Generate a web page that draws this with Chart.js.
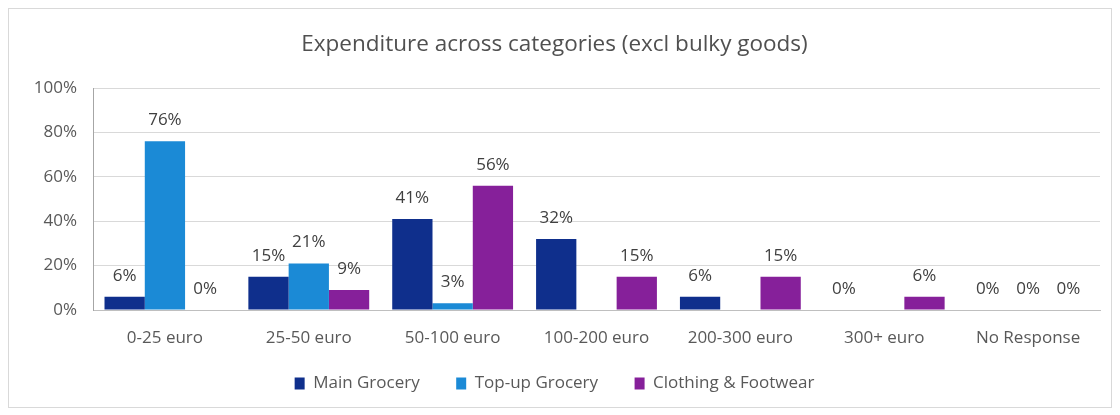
<!DOCTYPE html>
<html lang="en">
<head>
    <meta charset="UTF-8">
    <title>Expenditure across categories (excl bulky goods)</title>
    <script src="https://cdn.jsdelivr.net/npm/chart.js"></script>
    <style>
        body {
            margin: 0;
            padding: 0;
            background-color: #ffffff;
        }
        #box {
            position: absolute;
            left: 8px;
            top: 8px;
            width: 1102px;
            height: 398px;
            border: 1px solid #d9d9d9;
        }
    </style>
</head>
<body>
    <div id="box">
        <canvas id="myChart"></canvas>
    </div>

    <script>
        const categories = ['0-25 euro', '25-50 euro', '50-100 euro', '100-200 euro', '200-300 euro', '300+ euro', 'No Response'];
        const mainGrocery = [6, 15, 41, 32, 6, 0, 0];
        const topupGrocery = [76, 21, 3, null, null, null, 0];
        const clothing = [0, 9, 56, 15, 15, 6, 0];
        const yTicks = [0, 20, 40, 60, 80, 100];

        const textColor = '#595959';
        const fontName = '"Open Sans", Lato, sans-serif';

        // draws the % label above each bar
        const barLabels = {
            id: 'barLabels',
            afterDatasetsDraw(chart) {
                const ctx = chart.ctx;
                ctx.save();
                ctx.font = '17px ' + fontName;
                ctx.fillStyle = '#404040';
                ctx.textAlign = 'center';
                ctx.textBaseline = 'middle';
                chart.data.datasets.forEach((ds, i) => {
                    const meta = chart.getDatasetMeta(i);
                    meta.data.forEach((bar, j) => {
                        const v = ds.data[j];
                        if (v === null) return;
                        ctx.fillText(v + '%', bar.x, bar.y - 21);
                    });
                });
                ctx.restore();
            }
        };

        const ctx = document.getElementById('myChart').getContext('2d');
        new Chart(ctx, {
            type: 'bar',
            data: {
                labels: categories,
                datasets: [
                    { label: 'Main Grocery', data: mainGrocery, backgroundColor: '#0f2f8c' },
                    { label: 'Top-up Grocery', data: topupGrocery, backgroundColor: '#1b8ad6' },
                    { label: 'Clothing & Footwear', data: clothing, backgroundColor: '#86209a' }
                ]
            },
            options: {
                responsive: true,
                maintainAspectRatio: false,
                animation: false,
                layout: { padding: { top: 22, right: 11, bottom: 5, left: 0 } },
                datasets: {
                    bar: { categoryPercentage: 0.84, barPercentage: 1.0 }
                },
                scales: {
                    x: {
                        grid: { display: false, drawTicks: false },
                        border: { color: '#bfbfbf' },
                        ticks: { color: textColor, font: { family: fontName, size: 17 }, padding: 18 },
                        afterFit(scale) { scale.height = 55; }
                    },
                    y: {
                        min: 0,
                        max: 100,
                        afterBuildTicks(scale) { scale.ticks = yTicks.map(v => ({ value: v })); },
                        grid: { color: '#d9d9d9', drawTicks: false },
                        border: { color: '#a6a6a6' },
                        ticks: {
                            color: textColor,
                            font: { family: fontName, size: 17 },
                            padding: 16,
                            callback: v => v + '%'
                        },
                        afterFit(scale) { scale.width = 84; }
                    }
                },
                plugins: {
                    title: {
                        display: true,
                        text: 'Expenditure across categories (excl bulky goods)',
                        color: '#505050',
                        font: { family: fontName, size: 22.5, weight: 'normal' },
                        padding: { top: 0, bottom: 30 }
                    },
                    legend: {
                        position: 'bottom',
                        labels: {
                            color: textColor,
                            font: { family: fontName, size: 17 },
                            boxWidth: 10,
                            boxHeight: 12,
                            padding: 10,
                            // widen the gap between legend entries like the original
                            generateLabels(chart) {
                                const items = Chart.defaults.plugins.legend.labels.generateLabels(chart);
                                items.forEach((it, i) => {
                                    if (i < items.length - 1) it.text = it.text + '      ';
                                });
                                return items;
                            }
                        }
                    },
                    tooltip: { enabled: false }
                }
            },
            plugins: [barLabels]
        });
    </script>
</body>
</html>
